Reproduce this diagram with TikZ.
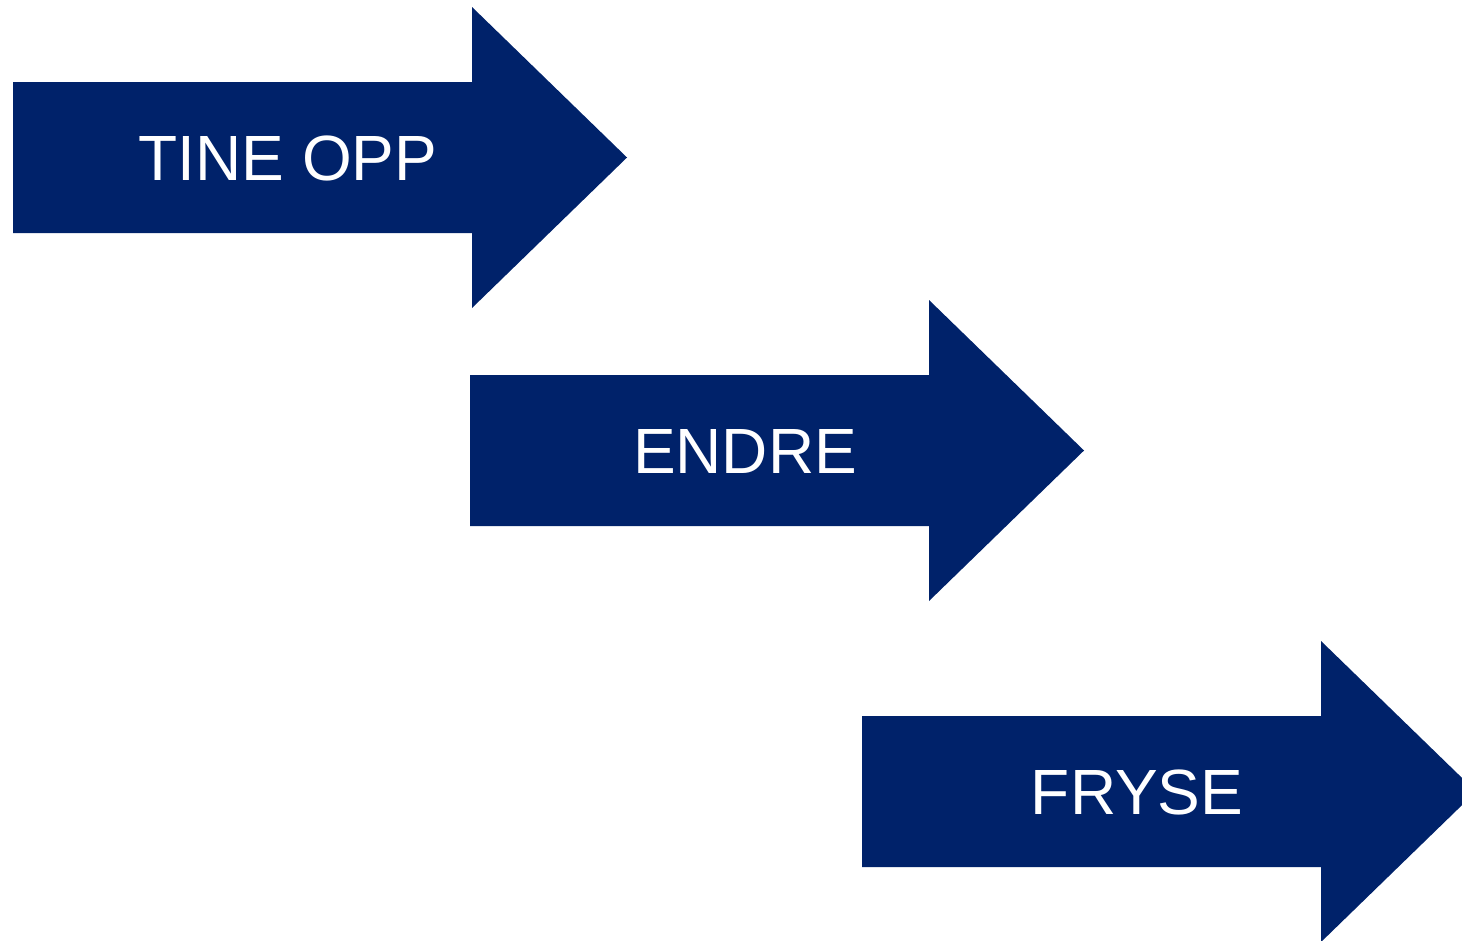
\documentclass[tikz,border=0pt]{standalone}
\usepackage{fontspec}
\setmainfont{Liberation Sans}
\usepackage{tikz}
\usetikzlibrary{shapes,arrows}
\usepackage{xcolor}
\definecolor{navy}{RGB}{0,34,106}

\begin{document}
\begin{tikzpicture}[lbl/.style={text=white,font=\fontsize{18.2}{22}\selectfont}]
		\def\bl{0.13}
		\def\bx{4.72}
		\def\tx{6.27}
		\def\by{0.755}
		\def\hy{1.505}
		\clip (0,0) rectangle (14.62,9.40);
		\useasboundingbox (0,0) rectangle (14.62,9.40);
		% tine opp
		\fill[navy] (\bl,7.825+\by) -- (\bx,7.825+\by) -- (\bx,7.825+\hy) -- (\tx,7.825) -- (\bx,7.825-\hy) -- (\bx,7.825-\by) -- (\bl,7.825-\by) -- cycle;
		\node[lbl] (tine) at (\bl+2.75,7.82) {TINE OPP};
		% endre
		\fill[navy] (\bl+4.57,4.895+\by) -- (\bx+4.57,4.895+\by) -- (\bx+4.57,4.895+\hy) -- (\tx+4.57,4.895) -- (\bx+4.57,4.895-\hy) -- (\bx+4.57,4.895-\by) -- (\bl+4.57,4.895-\by) -- cycle;
		\node[lbl] (endre) at (\bl+4.57+2.75,4.89) {ENDRE};
		% fryse
		\fill[navy] (\bl+8.49,1.485+\by) -- (\bx+8.49,1.485+\by) -- (\bx+8.49,1.485+\hy) -- (\tx+8.49,1.485) -- (\bx+8.49,1.485-\hy) -- (\bx+8.49,1.485-\by) -- (\bl+8.49,1.485-\by) -- cycle;
		\node[lbl] (fryse) at (\bl+8.49+2.75,1.48) {FRYSE};
\end{tikzpicture}
\end{document}
